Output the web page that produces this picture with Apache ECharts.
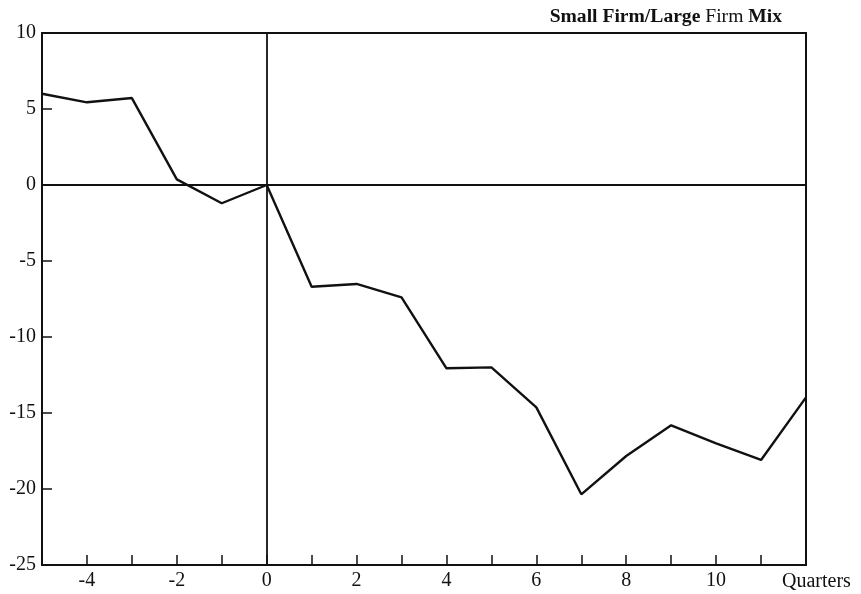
<!DOCTYPE html>
<html>
<head>
<meta charset="utf-8">
<script src="https://cdn.jsdelivr.net/npm/echarts@6/dist/echarts.min.js"></script>
<style>html,body{margin:0;padding:0;background:#fff;}#c{width:861px;height:594px;}</style>
</head>
<body>
<div id="c"></div>
<script>
const quarters = [-5,-4,-3,-2,-1,0,1,2,3,4,5,6,7,8,9,10,11,12];
const mixValues = [6.0,5.44,5.72,0.37,-1.2,0,-6.69,-6.51,-7.39,-12.06,-12.0,-14.63,-20.35,-17.83,-15.81,-17.0,-18.09,-13.97];
const yTicks = [-25,-20,-15,-10,-5,0,5,10];
const xAxisTitle = 'Quarters';

const FONT = '"Liberation Serif", "DejaVu Serif", serif';
const chart = echarts.init(document.getElementById('c'), null, {renderer:'canvas'});
chart.setOption({
  backgroundColor:'#fff',
  animation:false,
  title:{
    text:'{b|Small Firm/Large }{n|Firm }{b|Mix}',
    right:74, top:2,
    textStyle:{
      rich:{
        b:{fontFamily:FONT,fontSize:19.6,fontWeight:'bold',color:'#111'},
        n:{fontFamily:FONT,fontSize:19.6,fontWeight:'normal',color:'#111'}
      }
    }
  },
  grid:{left:42,top:33,right:55,bottom:29,show:true,borderColor:'#111',borderWidth:2,backgroundColor:'transparent'},
  xAxis:{
    type:'value',min:-5,max:12,interval:1,
    axisLine:{onZero:false,lineStyle:{color:'#111',width:2}},
    axisTick:{inside:true,length:10,lineStyle:{color:'#111',width:1.5}},
    splitLine:{show:false},
    axisLabel:{
      fontFamily:FONT,fontSize:20,color:'#111',margin:6,showMinLabel:true,showMaxLabel:true,
      formatter:function(v){return (v%2===0 && v!==12) ? String(v) : '';}
    }
  },
  yAxis:{
    type:'value',min:-25,max:10,interval:5,
    axisLine:{onZero:false,lineStyle:{color:'#111',width:2}},
    axisTick:{inside:true,length:10,lineStyle:{color:'#111',width:1.5}},
    splitLine:{show:false},
    axisLabel:{fontFamily:FONT,fontSize:20,color:'#111',margin:6,
      formatter:function(v){return yTicks.indexOf(v)>=0?String(v):'';}}
  },
  graphic:[{
    type:'text',left:782,top:572,
    style:{text:xAxisTitle,font:'20px "Liberation Serif", serif',fill:'#111'}
  }],
  series:[{
    type:'line',
    data:quarters.map((q,i)=>[q,mixValues[i]]),
    symbol:'none',
    lineStyle:{color:'#111',width:2.4},
    markLine:{
      silent:true,symbol:'none',label:{show:false},
      lineStyle:{color:'#111',width:1.8,type:'solid'},
      data:[{yAxis:0},{xAxis:0}]
    }
  }]
});
</script>
</body>
</html>
